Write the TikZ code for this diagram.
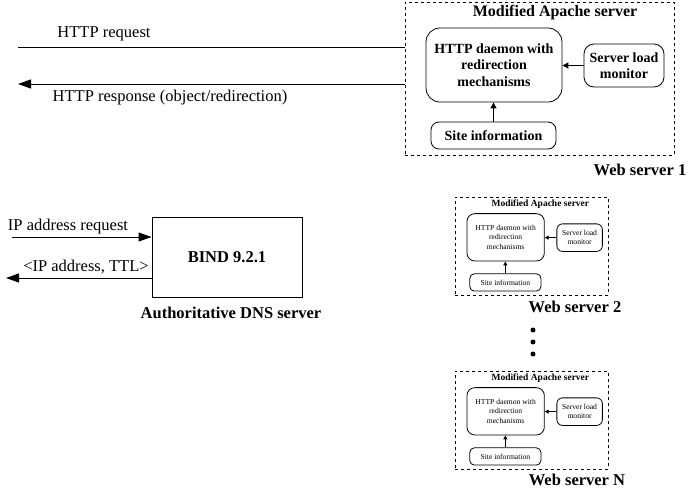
\documentclass[tikz,border=0pt]{standalone}
\usepackage{fontspec}
\setmainfont{Liberation Serif}
\usetikzlibrary{arrows.meta}
\tikzset{
  wsbox/.style={draw, dashed, dash pattern=on 3pt off 3pt, line width=0.8pt, inner sep=0pt},
  inbox/.style={draw, line width=0.8pt, align=center, inner sep=0pt},
  lbl/.style={inner sep=0pt, font=\fontsize{16.5}{18}\selectfont\bfseries},
  plain/.style={inner sep=0pt, font=\fontsize{16.5}{18}\selectfont},
  bigarr/.style={-{Triangle[length=13pt,width=9pt]}, line width=1pt},
  line/.style={line width=1pt}
}
% #1 prefix, #2 x, #3 y, #4 xscale, #5 yscale, #6 title font, #7 inner font, #8 arrow length
\newcommand\webmodule[8]{%
 \begin{scope}[shift={(#2,#3)}, xscale=#4, yscale=#5]
  \node[wsbox, minimum width={269*#4}, minimum height={153*#5}, anchor=north west] (#1box) at (0,0) {};
  \node[inner sep=0pt, font=#6] (#1title) at (150,11) {Modified Apache server};
  \node[inbox, font=#7, minimum width={136*#4}, minimum height={74*#5}, rounded corners={14*#4}] (#1d) at (89,63) {HTTP daemon with\\redirection\\mechanisms};
  \node[inbox, font=#7, minimum width={80*#4}, minimum height={43*#5}, rounded corners={10*#4}] (#1m) at (219,63.5) {Server load\\monitor};
  \node[inbox, font=#7, minimum width={125*#4}, minimum height={27*#5}, rounded corners={8*#4}] (#1s) at (88.5,133.5) {Site information};
  \draw[-{Triangle[length=#8,width=#8]}, line width=1pt] (#1m.west) -- (#1m.west -| #1d.east);
  \draw[-{Triangle[length=#8,width=#8]}, line width=1pt] (#1s.north) -- (#1s.north |- #1d.south);
 \end{scope}}
\begin{document}
\begin{tikzpicture}[x=1pt, y=-1pt]
\useasboundingbox (0,0) rectangle (689,491);
% Web server 1
\webmodule{a}{405}{2}{1}{1}{\fontsize{16}{18}\selectfont\bfseries}{\fontsize{14}{16.5}\selectfont\bfseries}{6pt}
\node[lbl] (ws1lbl) at (640,170) {Web server 1};
% HTTP lines
\coordinate (reqL) at (18,47);
\coordinate (resL) at (18,84);
\draw[line] (reqL) -- (reqL -| abox.west);
\draw[bigarr] (resL -| abox.west) -- (resL);
\node[plain] (reqtxt) at (104,34) {HTTP request};
\node[plain] (restxt) at (170,98) {HTTP response (object/redirection)};
% DNS
\node[draw, line width=1pt, minimum width=150pt, minimum height=80pt, inner sep=0pt,
      font=\fontsize{16.5}{18}\selectfont\bfseries] (bind) at (227,257) {BIND 9.2.1};
\node[lbl] (dnslbl) at (231,313) {Authoritative DNS server};
\coordinate (ipreqL) at (12,237);
\coordinate (ipresL) at (6,278);
\draw[bigarr] (ipreqL) -- (ipreqL -| bind.west);
\draw[bigarr] (ipresL -| bind.west) -- (ipresL);
\node[plain] (ipreqtxt) at (68,227) {IP address request};
\node[plain] (iprestxt) at (86,267) {<IP address, TTL>};
% Web server 2
\webmodule{b}{455}{197}{0.569}{0.64}{\fontsize{9.5}{11}\selectfont\bfseries}{\fontsize{7.6}{9.5}\selectfont}{4pt}
\node[lbl] (ws2lbl) at (575,307) {Web server 2};
% dots
\foreach \yy/\nm in {330/d1,342/d2,354/d3}
  \node[circle, fill, inner sep=0pt, minimum size=5pt] (\nm) at (533,\yy) {};
% Web server N
\webmodule{c}{455}{371}{0.569}{0.64}{\fontsize{9.5}{11}\selectfont\bfseries}{\fontsize{7.6}{9.5}\selectfont}{4pt}
\node[lbl] (wsnlbl) at (577,480) {Web server N};
\end{tikzpicture}
\end{document}
